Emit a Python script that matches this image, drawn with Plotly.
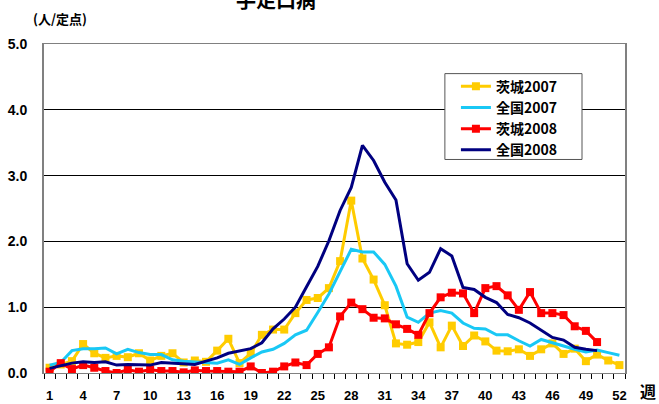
import plotly.graph_objects as go

weeks = list(range(1, 53))
weeks_2008 = list(range(1, 51))

ibaraki_2007 = [0.08, 0.13, 0.18, 0.44, 0.30, 0.23, 0.26, 0.24, 0.30, 0.19,
                0.26, 0.30, 0.16, 0.19, 0.17, 0.34, 0.52, 0.15, 0.30, 0.58,
                0.66, 0.66, 0.91, 1.11, 1.14, 1.29, 1.70, 2.62, 1.74, 1.42,
                1.03, 0.45, 0.43, 0.47, 0.77, 0.39, 0.72, 0.41, 0.57, 0.48,
                0.34, 0.33, 0.36, 0.26, 0.36, 0.45, 0.29, 0.37, 0.18, 0.28,
                0.19, 0.12]
national_2007 = [0.12, 0.16, 0.34, 0.37, 0.37, 0.38, 0.29, 0.36, 0.31, 0.28,
                 0.28, 0.20, 0.18, 0.17, 0.17, 0.15, 0.20, 0.13, 0.23, 0.32,
                 0.36, 0.45, 0.58, 0.65, 0.92, 1.20, 1.54, 1.88, 1.84, 1.84,
                 1.65, 1.32, 0.85, 0.77, 0.91, 0.95, 0.91, 0.76, 0.68, 0.67,
                 0.58, 0.58, 0.49, 0.41, 0.51, 0.46, 0.40, 0.36, 0.32, 0.35,
                 0.31, 0.27]
ibaraki_2008 = [0.02, 0.15, 0.06, 0.12, 0.08, 0.03, 0.00, 0.05, 0.02, 0.05,
                0.03, 0.03, 0.01, 0.04, 0.03, 0.03, 0.02, 0.02, 0.10, 0.00,
                0.02, 0.10, 0.16, 0.12, 0.29, 0.39, 0.86, 1.07, 0.97, 0.84,
                0.83, 0.74, 0.67, 0.58, 0.91, 1.15, 1.22, 1.21, 0.91, 1.29,
                1.32, 1.18, 0.96, 1.23, 0.91, 0.91, 0.88, 0.71, 0.64, 0.47]
national_2008 = [0.07, 0.11, 0.15, 0.17, 0.16, 0.17, 0.12, 0.13, 0.13, 0.12,
                 0.16, 0.15, 0.14, 0.13, 0.18, 0.23, 0.30, 0.34, 0.37, 0.46,
                 0.67, 0.82, 1.00, 1.31, 1.62, 2.01, 2.47, 2.82, 3.46, 3.23,
                 2.90, 2.63, 1.66, 1.41, 1.53, 1.89, 1.78, 1.30, 1.27, 1.15,
                 1.07, 0.89, 0.84, 0.76, 0.65, 0.54, 0.50, 0.39, 0.36, 0.34]

tick_weeks = list(range(1, 53, 3))
tick_labels = [str(w) for w in tick_weeks]
y_ticks = [0, 1, 2, 3, 4, 5]
y_tick_labels = ["0.0", "1.0", "2.0", "3.0", "4.0", "5.0"]

JP = "Noto Sans CJK JP"
NUM = "Liberation Sans Narrow, Liberation Sans, Arial"

fig = go.Figure()
fig.add_trace(go.Scatter(x=weeks, y=ibaraki_2007, name="茨城2007", mode="lines+markers",
                         line=dict(color="#FFCC00", width=3),
                         marker=dict(symbol="square", size=8, color="#FFCC00")))
fig.add_trace(go.Scatter(x=weeks, y=national_2007, name="全国2007", mode="lines",
                         line=dict(color="#19C8F5", width=3)))
fig.add_trace(go.Scatter(x=weeks_2008, y=ibaraki_2008, name="茨城2008", mode="lines+markers",
                         line=dict(color="#FF0000", width=3),
                         marker=dict(symbol="square", size=8, color="#FF0000")))
fig.add_trace(go.Scatter(x=weeks_2008, y=national_2008, name="全国2008", mode="lines",
                         line=dict(color="#000080", width=3)))

fig.update_layout(
    width=659, height=404,
    margin=dict(l=44, r=34, t=44, b=31, autoexpand=False),
    paper_bgcolor="white", plot_bgcolor="white",
    showlegend=True,
    legend=dict(x=0.709, y=0.919, xanchor="left", yanchor="top",
                bgcolor="rgba(0,0,0,0)", borderwidth=0,
                font=dict(family=JP, size=14, color="black", weight="bold"),
                tracegroupgap=0, itemwidth=30),
    xaxis=dict(range=[0.5, 52.5], tickvals=tick_weeks, ticktext=tick_labels,
               ticks="", showgrid=False, zeroline=False, automargin=False,
               showline=True, linecolor="#808080", linewidth=1, mirror=True,
               tickfont=dict(family=NUM, size=13, color="black", weight="bold"),
               ticklabelstandoff=10,
               minor=dict(ticks="outside", tick0=0.5, dtick=1, ticklen=5,
                          tickcolor="black", tickwidth=1, showgrid=False)),
    yaxis=dict(range=[0, 5], tickvals=y_ticks, ticktext=y_tick_labels,
               ticks="", showgrid=True, gridcolor="black", gridwidth=1,
               zeroline=True, zerolinecolor="black", zerolinewidth=1, automargin=False,
               showline=True, linecolor="#808080", linewidth=2, mirror=True,
               tickfont=dict(family=NUM, size=14, color="black", weight="bold"),
               ticklabelstandoff=12),
)

# legend frame
fig.add_shape(type="rect", xref="paper", yref="paper",
              x0=0.690, x1=0.926, y0=0.649, y1=0.910,
              fillcolor="white", line=dict(color="#555555", width=1), layer="above")

fig.add_annotation(text="手足口病", xref="paper", yref="paper", x=0.40, y=1.085,
                   xanchor="center", yanchor="bottom", showarrow=False,
                   font=dict(family=JP, size=20, color="black", weight="bold"))
fig.add_annotation(text="(人/定点)", xref="paper", yref="paper", x=0.028, y=1.077,
                   xanchor="center", yanchor="middle", showarrow=False,
                   font=dict(family=JP, size=13, color="black", weight="bold"))
fig.add_annotation(text="週", xref="paper", yref="paper", x=1.04, y=-0.056,
                   xanchor="center", yanchor="middle", showarrow=False,
                   font=dict(family=JP, size=16, color="black", weight="bold"))

fig.write_html("out.html", config={"displayModeBar": False},
               post_script="document.body.style.margin='0';")
